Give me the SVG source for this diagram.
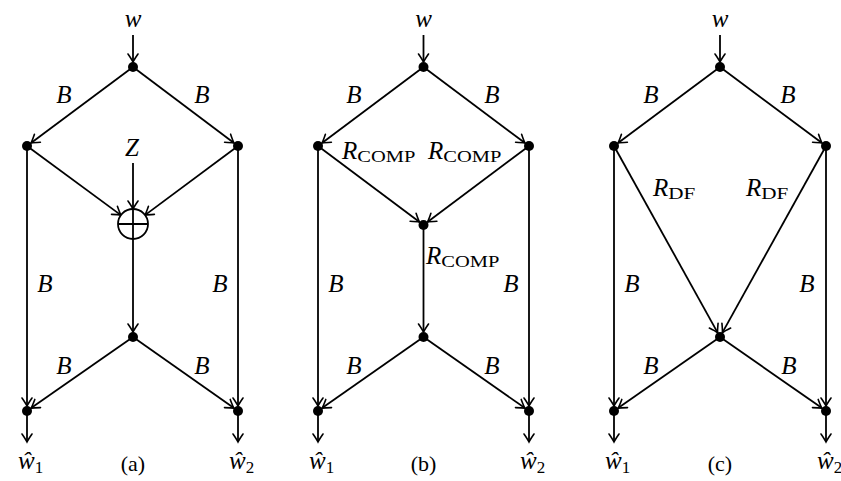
<svg xmlns="http://www.w3.org/2000/svg" width="841" height="481" viewBox="0 0 841 481">
<style>
.e{stroke:#000;stroke-width:1.8;fill:none;marker-end:url(#ar)}
.n{fill:#000}
text{font-family:"Liberation Serif","Times New Roman",serif;fill:#000}
.m{font-style:italic;font-size:25px}
.c{text-anchor:middle}
.s{font-style:normal;font-size:17px}
.r{font-size:22px;text-anchor:middle}
</style>
<defs>
<marker id="ar" viewBox="-10 -7 12 14" refX="0" refY="0" markerWidth="12" markerHeight="14" markerUnits="userSpaceOnUse" orient="auto">
<path d="M-8,-5 Q-2.5,-1.2 0,0 Q-2.5,1.2 -8,5" stroke="#000" stroke-width="1.6" fill="none" stroke-linecap="round"/>
</marker>
</defs>
<g id="connectors">
<line class="e" x1="133" y1="35" x2="133" y2="62"/>
<line class="e" x1="133" y1="67" x2="31" y2="143"/>
<line class="e" x1="133" y1="67" x2="234" y2="143"/>
<line class="e" x1="27" y1="146" x2="120.9" y2="215.1"/>
<line class="e" x1="238" y1="146" x2="145" y2="215.1"/>
<line class="e" x1="133" y1="163" x2="133" y2="209"/>
<line class="e" x1="133" y1="239" x2="133" y2="332"/>
<line class="e" x1="133" y1="337" x2="31.1" y2="408.1"/>
<line class="e" x1="133" y1="337" x2="233.9" y2="408.1"/>
<line class="e" x1="27" y1="146" x2="27" y2="406"/>
<line class="e" x1="238" y1="146" x2="238" y2="406"/>
<line class="e" x1="27" y1="411" x2="27" y2="442"/>
<line class="e" x1="238" y1="411" x2="238" y2="442"/>
<line class="e" x1="423.5" y1="35" x2="423.5" y2="62"/>
<line class="e" x1="423.5" y1="67" x2="322" y2="143"/>
<line class="e" x1="423.5" y1="67" x2="525" y2="143"/>
<line class="e" x1="318" y1="146" x2="419.5" y2="222"/>
<line class="e" x1="529" y1="146" x2="427.5" y2="222"/>
<line class="e" x1="423.5" y1="225" x2="423.5" y2="332"/>
<line class="e" x1="423.5" y1="337" x2="322.1" y2="408.1"/>
<line class="e" x1="423.5" y1="337" x2="524.9" y2="408.1"/>
<line class="e" x1="318" y1="146" x2="318" y2="406"/>
<line class="e" x1="529" y1="146" x2="529" y2="406"/>
<line class="e" x1="318" y1="411" x2="318" y2="442"/>
<line class="e" x1="529" y1="411" x2="529" y2="442"/>
<line class="e" x1="720" y1="35" x2="720" y2="62"/>
<line class="e" x1="720" y1="67" x2="618" y2="143"/>
<line class="e" x1="720" y1="67" x2="822" y2="143"/>
<line class="e" x1="614" y1="146" x2="717.6" y2="332.6"/>
<line class="e" x1="826" y1="146" x2="722.4" y2="332.6"/>
<line class="e" x1="720" y1="337" x2="618.1" y2="408.1"/>
<line class="e" x1="720" y1="337" x2="821.9" y2="408.1"/>
<line class="e" x1="614" y1="146" x2="614" y2="406"/>
<line class="e" x1="826" y1="146" x2="826" y2="406"/>
<line class="e" x1="614" y1="411" x2="614" y2="442"/>
<line class="e" x1="826" y1="411" x2="826" y2="442"/>
</g>
<g id="a-top"><circle class="n" cx="133" cy="67" r="5"/></g>
<g id="a-left"><circle class="n" cx="27" cy="146" r="5"/></g>
<g id="a-right"><circle class="n" cx="238" cy="146" r="5"/></g>
<g id="a-sum"><circle cx="133" cy="224" r="15" fill="#fff" stroke="#000" stroke-width="1.8"/><path d="M118,224H148M133,209V239" stroke="#000" stroke-width="1.8"/></g>
<g id="a-mid"><circle class="n" cx="133" cy="337" r="5"/></g>
<g id="a-out1"><circle class="n" cx="27" cy="411" r="5"/></g>
<g id="a-out2"><circle class="n" cx="238" cy="411" r="5"/></g>
<g id="b-top"><circle class="n" cx="423.5" cy="67" r="5"/></g>
<g id="b-left"><circle class="n" cx="318" cy="146" r="5"/></g>
<g id="b-right"><circle class="n" cx="529" cy="146" r="5"/></g>
<g id="b-comp"><circle class="n" cx="423.5" cy="225" r="5"/></g>
<g id="b-mid"><circle class="n" cx="423.5" cy="337" r="5"/></g>
<g id="b-out1"><circle class="n" cx="318" cy="411" r="5"/></g>
<g id="b-out2"><circle class="n" cx="529" cy="411" r="5"/></g>
<g id="c-top"><circle class="n" cx="720" cy="67" r="5"/></g>
<g id="c-left"><circle class="n" cx="614" cy="146" r="5"/></g>
<g id="c-right"><circle class="n" cx="826" cy="146" r="5"/></g>
<g id="c-mid"><circle class="n" cx="720" cy="337" r="5"/></g>
<g id="c-out1"><circle class="n" cx="614" cy="411" r="5"/></g>
<g id="c-out2"><circle class="n" cx="826" cy="411" r="5"/></g>
<g id="labels">
<text class="m c" x="133" y="27">w</text>
<text class="m c" x="64" y="103">B</text>
<text class="m c" x="202" y="103">B</text>
<text class="m c" x="132" y="156">Z</text>
<text class="m c" x="45" y="292">B</text>
<text class="m c" x="220" y="292">B</text>
<text class="m c" x="64" y="374">B</text>
<text class="m c" x="202" y="374">B</text>
<text class="m" x="18" y="469">ŵ<tspan class="s" dy="4">1</tspan></text>
<text class="m" x="229" y="469">ŵ<tspan class="s" dy="4">2</tspan></text>
<text class="r" x="133" y="471">(a)</text>
<text class="m c" x="423.5" y="27">w</text>
<text class="m c" x="354" y="103">B</text>
<text class="m c" x="492" y="103">B</text>
<text class="m" x="342" y="159">R<tspan class="s" dy="3" textLength="58" lengthAdjust="spacingAndGlyphs">COMP</tspan></text>
<text class="m" x="428" y="159">R<tspan class="s" dy="3" textLength="58" lengthAdjust="spacingAndGlyphs">COMP</tspan></text>
<text class="m" x="426" y="264">R<tspan class="s" dy="3" textLength="58" lengthAdjust="spacingAndGlyphs">COMP</tspan></text>
<text class="m c" x="336" y="292">B</text>
<text class="m c" x="511" y="292">B</text>
<text class="m c" x="354" y="374">B</text>
<text class="m c" x="492" y="374">B</text>
<text class="m" x="309" y="469">ŵ<tspan class="s" dy="4">1</tspan></text>
<text class="m" x="520" y="469">ŵ<tspan class="s" dy="4">2</tspan></text>
<text class="r" x="423.5" y="471">(b)</text>
<text class="m c" x="720" y="27">w</text>
<text class="m c" x="651" y="103">B</text>
<text class="m c" x="788" y="103">B</text>
<text class="m" x="653" y="196">R<tspan class="s" dy="3" textLength="27" lengthAdjust="spacingAndGlyphs">DF</tspan></text>
<text class="m" x="746" y="196">R<tspan class="s" dy="3" textLength="27" lengthAdjust="spacingAndGlyphs">DF</tspan></text>
<text class="m c" x="632" y="292">B</text>
<text class="m c" x="807" y="292">B</text>
<text class="m c" x="651" y="374">B</text>
<text class="m c" x="789" y="374">B</text>
<text class="m" x="605" y="469">ŵ<tspan class="s" dy="4">1</tspan></text>
<text class="m" x="817" y="469">ŵ<tspan class="s" dy="4">2</tspan></text>
<text class="r" x="720" y="471">(c)</text>
</g>
</svg>
